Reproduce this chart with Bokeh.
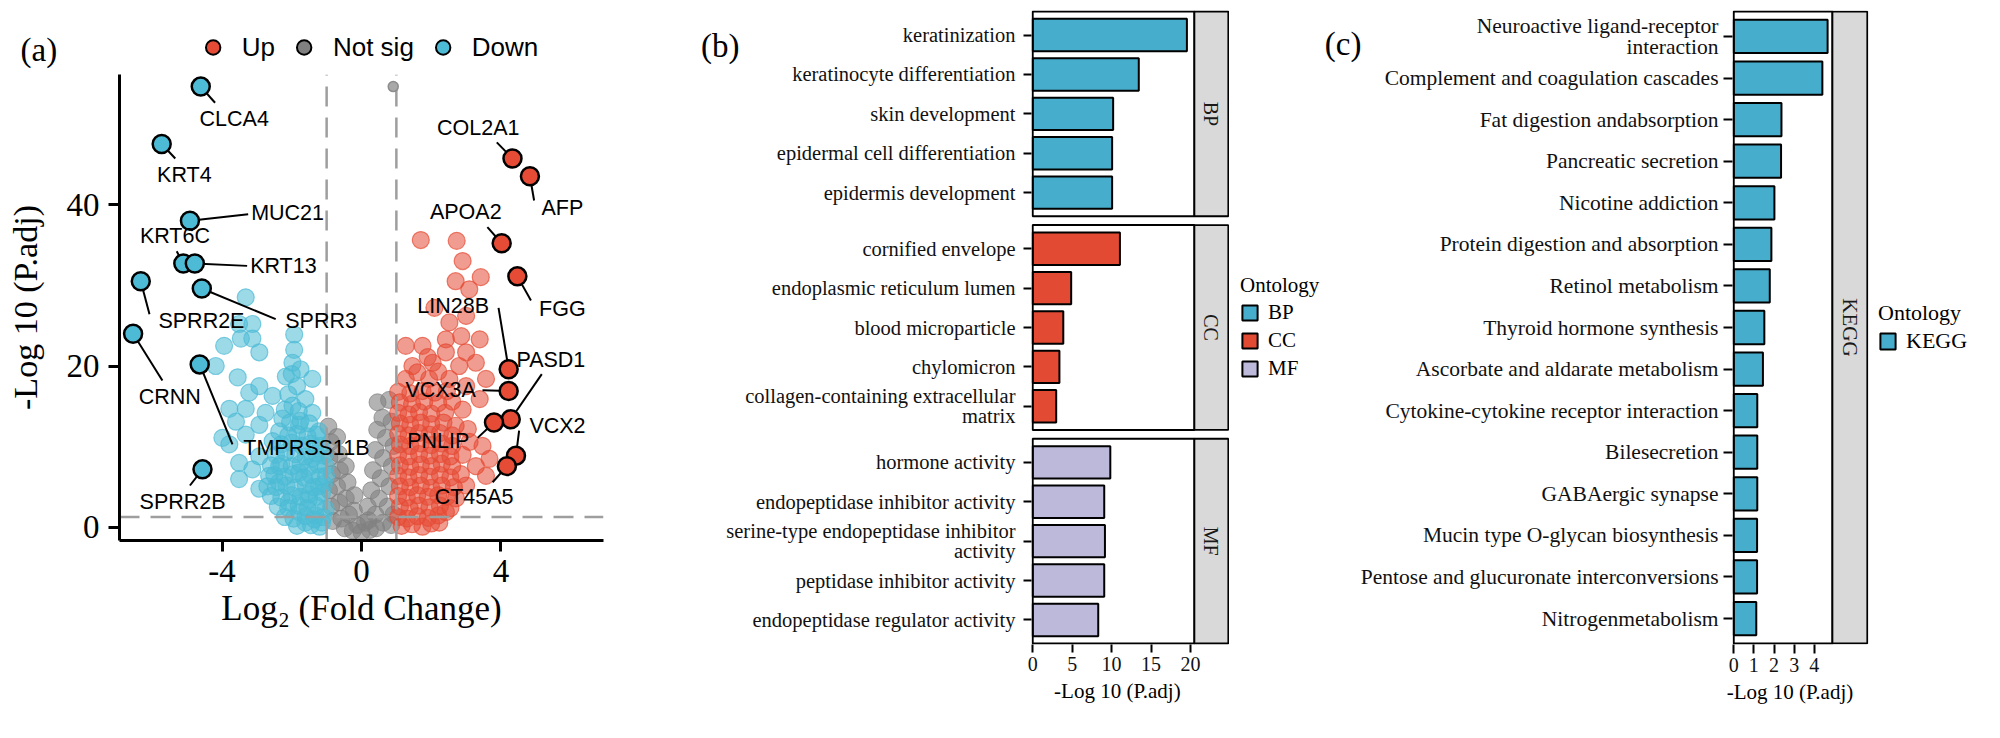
import math
from bokeh.plotting import figure
from bokeh.models import Range1d, FixedTicker, Legend, LegendItem, LinearAxis
from bokeh.layouts import row, column
from bokeh.embed import file_html
from bokeh.resources import INLINE
from bokeh.core.properties import value

SERIF = "Liberation Serif"
SANS = "Liberation Sans"
UP_C = "#E64B35"
DOWN_C = "#4DBBD5"
NS_C = "#808080"
BP_C = "#46AECC"
CC_C = "#E24A34"
MF_C = "#BDB9DB"
KEGG_C = "#46AECC"
STRIP_C = "#D9D9D9"
NBSP = "\u00a0"

# ---------------- panel (a): volcano data ----------------
FC_CUT = 1.0
P_CUT = 1.3

down_x = [-3.32, -3.51, -3.13, -3.94, -3.46, -3.13, -2.93, -1.93, -1.93, -1.98, -2.17, -4.18, -3.55, -3.22,
          -2.93, -2.55, -1.85, -1.61, -3.79, -3.32, -2.75, -3.60, -2.93, -3.99, -3.32, -2.36, -1.79, -1.41,
          -1.22, -3.51, -2.93, -2.17, -3.51, -2.93, -2.36, -1.79, -1.41, -2.09, -1.51, -1.22, -1.79, -1.32,
          -1.61, -1.13, -1.03, -1.13, -1.03, -1.17, -2.36, -2.65, -3.13, -3.79, -2.55, -1.98, -2.27, -1.41,
          -1.85, -1.45, -1.20, -2.20, -1.95, -1.60, -1.35, -1.10, -2.40, -2.10, -1.80, -1.55, -1.30,
          -2.60, -2.30, -2.00, -1.75, -1.50, -1.28, -2.70, -2.45, -2.15, -1.90, -1.60, -1.38, -1.08,
          -2.50, -2.20, -1.95, -1.65, -1.45, -1.20, -1.02, -2.60, -2.30, -2.00, -1.75, -1.50, -1.25,
          -2.45, -1.90, -1.60, -1.30, -1.08, -2.30, -2.00, -1.70, -1.45, -2.10, -1.85, -1.55, -1.30,
          -2.05, -1.75, -1.50, -2.20, -1.80, -2.10, -2.00, -1.75]
down_y = [28.5, 25.2, 25.2, 22.5, 23.4, 23.4, 21.7, 23.9, 22.0, 20.4, 18.7, 20.0, 18.6, 16.7,
          17.5, 16.3, 17.5, 15.9, 14.7, 14.7, 14.2, 13.1, 12.7, 11.1, 11.5, 11.9, 12.7, 14.2,
          11.9, 8.0, 8.8, 9.3, 6.0, 4.8, 5.6, 6.8, 8.5, 3.1, 3.5, 5.1, 1.9, 1.5,
          0.6, 0.6, 2.3, 4.3, 7.6, 10.1, 7.6, 6.4, 7.2, 10.3, 10.7, 15.1, 13.5, 18.4,
          0.2, 0.3, 0.1, 1.3, 1.1, 1.4, 1.0, 1.3, 2.6, 2.4, 2.7, 2.4, 2.7,
          3.9, 3.7, 4.0, 3.8, 4.1, 3.8, 5.1, 5.0, 5.2, 4.9, 5.3, 5.0, 5.4,
          6.5, 6.3, 6.6, 6.2, 6.5, 6.3, 6.4, 7.7, 7.9, 7.6, 7.9, 7.5, 7.8,
          9.0, 9.1, 8.8, 9.2, 8.9, 10.3, 10.5, 10.1, 10.4, 11.4, 11.6, 11.3, 11.5,
          13.0, 13.2, 12.9, 14.6, 14.4, 16.5, 19.0, 19.6]

up_x = [1.70, 2.73, 2.90, 2.70, 3.42, 3.09, 2.09, 2.52, 3.00, 1.27, 1.75, 2.42, 2.86, 3.39,
        3.00, 2.42, 2.04, 1.46, 2.80, 3.28, 3.57, 1.27, 1.94, 2.52, 3.00, 3.39, 2.90, 3.47,
        3.67, 3.28, 3.00, 2.71, 2.42, 2.23, 3.57, 3.05,
        1.15, 1.45, 1.75, 2.00, 1.05, 1.30, 1.60, 1.90, 2.20, 1.10, 1.38, 1.65, 1.95, 2.25, 2.55,
        1.05, 1.30, 1.60, 1.90, 2.20, 2.45, 1.10, 1.40, 1.70, 2.00, 2.30, 2.65,
        1.05, 1.35, 1.65, 1.95, 2.25, 2.55, 2.85, 1.10, 1.40, 1.70, 2.00, 2.30, 2.60,
        1.05, 1.35, 1.65, 1.95, 2.25, 2.55, 2.90, 1.10, 1.40, 1.70, 2.00, 2.30, 2.60, 3.10,
        1.05, 1.35, 1.65, 1.95, 2.25, 2.60, 1.10, 1.40, 1.70, 2.00, 2.35, 2.70,
        1.05, 1.35, 1.65, 2.00, 2.40, 1.10, 1.45, 1.80, 2.20, 2.60, 1.05, 1.40, 1.75, 2.10, 2.45,
        1.60, 2.20, 1.90]
up_y = [35.6, 35.5, 33.0, 30.5, 31.0, 29.5, 27.2, 25.4, 26.2, 22.5, 22.5, 23.3, 23.7, 23.3,
        21.7, 21.7, 20.4, 20.0, 20.0, 20.4, 18.4, 18.4, 18.4, 18.4, 17.5, 15.9, 14.6, 10.1,
        8.5, 7.6, 5.2, 3.6, 1.9, 0.6, 6.4, 12.2,
        0.2, 0.4, 0.1, 0.5, 1.3, 1.1, 1.4, 1.2, 1.5, 2.6, 2.4, 2.7, 2.5, 2.7, 2.4,
        3.9, 3.7, 4.0, 3.8, 4.0, 3.8, 5.1, 5.0, 5.2, 4.9, 5.2, 5.0,
        6.4, 6.2, 6.5, 6.3, 6.5, 6.2, 6.6, 7.7, 7.5, 7.8, 7.6, 7.9, 7.6,
        9.0, 8.8, 9.1, 8.9, 9.1, 8.8, 9.0, 10.3, 10.1, 10.4, 10.2, 10.4, 10.1, 10.6,
        11.6, 11.4, 11.7, 11.5, 11.7, 11.4, 12.9, 12.7, 13.0, 12.8, 13.0, 12.6,
        14.2, 14.0, 14.3, 14.1, 14.2, 15.5, 15.3, 15.6, 15.4, 15.6, 16.8, 16.6, 16.9, 16.7, 16.9,
        19.2, 19.3, 21.1]

ns_x = [-0.95, -0.88, -0.92, -0.85, -0.93, -0.87, -0.82, -0.70, -0.65, -0.62, -0.70, -0.64, -0.58,
        -0.45, -0.40, -0.45, -0.36, -0.48, -0.20, -0.22, -0.12, -0.25, 0.00, 0.10, 0.24,
        0.46, 0.79, 0.60, 0.86, 0.45, 0.70, 0.92, 0.40, 0.62, 0.87, 0.33, 0.55, 0.80, 0.28,
        0.50, 0.75, 0.92, 0.18, 0.40, 0.62, 0.20, 0.42, 0.85]
ns_y = [12.5, 10.6, 8.6, 6.6, 4.6, 2.6, 0.8, 11.2, 9.1, 7.1, 5.1, 3.1, 1.1,
        7.6, 5.6, 3.6, 1.6, -0.1, 4.0, 2.1, 0.3, -0.4, -0.6, 0.6, -0.3,
        15.5, 15.8, 13.6, 13.1, 12.1, 11.1, 10.1, 9.6, 8.6, 7.6, 7.1, 6.1, 5.1, 4.6,
        3.6, 2.6, 1.6, 2.6, 1.6, 0.6, 0.9, -0.1, 0.3]
ns_top_x = [0.91]
ns_top_y = [54.6]

down_genes = ["CLCA4", "KRT4", "MUC21", "KRT6C", "KRT13", "SPRR2E", "SPRR3", "CRNN", "TMPRSS11B", "SPRR2B"]
down_gene_x = [-4.61, -5.73, -4.92, -5.11, -4.78, -6.33, -4.58, -6.55, -4.64, -4.56]
down_gene_y = [54.6, 47.5, 38.0, 32.7, 32.7, 30.5, 29.6, 24.0, 20.2, 7.2]
down_label_x = [-3.65, -5.08, -2.12, -5.35, -2.24, -4.59, -1.16, -5.50, -1.58, -5.13]
down_label_y = [50.6, 43.6, 39.0, 36.1, 32.4, 25.6, 25.6, 16.2, 9.8, 3.1]
down_line_x = [-4.20, -5.34, -3.25, -5.30, -3.28, -6.08, -2.46, -5.71, -3.70, -4.92]
down_line_y = [52.6, 45.7, 38.8, 34.2, 32.4, 26.4, 25.8, 18.2, 10.3, 5.2]

up_genes = ["COL2A1", "AFP", "APOA2", "FGG", "LIN28B", "PASD1", "VCX3A", "PNLIP", "VCX2", "CT45A5"]
up_gene_x = [4.33, 4.83, 4.02, 4.47, 4.22, 4.28, 4.22, 3.80, 4.43, 4.17]
up_gene_y = [45.7, 43.5, 35.2, 31.1, 19.6, 13.4, 16.9, 13.0, 8.9, 7.6]
up_label_x = [3.35, 5.76, 2.99, 5.76, 2.63, 5.43, 2.27, 2.20, 5.62, 3.23]
up_label_y = [49.5, 39.6, 39.1, 27.1, 27.4, 20.8, 17.0, 10.7, 12.6, 3.8]
up_line_x = [3.88, 4.95, 3.61, 4.86, 3.93, 5.17, 3.47, 3.33, 4.52, 3.76]
up_line_y = [47.7, 40.5, 37.2, 28.1, 27.2, 19.0, 17.0, 11.1, 12.0, 5.6]

volcano_x_ticks = [-4, 0, 4]
volcano_y_ticks = [0, 20, 40]

# ---------------- panel (b): GO data ----------------
bp_terms = ["keratinization", "keratinocyte differentiation", "skin development",
            "epidermal cell differentiation", "epidermis development"]
bp_vals = [19.55, 13.45, 10.2, 10.07, 10.07]
cc_terms = ["cornified envelope", "endoplasmic reticulum lumen", "blood microparticle", "chylomicron",
            "collagen-containing extracellular\nmatrix"]
cc_vals = [11.06, 4.88, 3.88, 3.39, 2.98]
mf_terms = ["hormone activity", "endopeptidase inhibitor activity",
            "serine-type endopeptidase inhibitor\nactivity", "peptidase inhibitor activity",
            "endopeptidase regulator activity"]
mf_vals = [9.84, 9.07, 9.16, 9.07, 8.31]
go_x_ticks = [0, 5, 10, 15, 20]

# ---------------- panel (c): KEGG data ----------------
kegg_terms = ["Neuroactive ligand-receptor\ninteraction", "Complement and coagulation cascades",
              "Fat digestion andabsorption", "Pancreatic secretion", "Nicotine addiction",
              "Protein digestion and absorption", "Retinol metabolism", "Thyroid hormone synthesis",
              "Ascorbate and aldarate metabolism", "Cytokine-cytokine receptor interaction",
              "Bilesecretion", "GABAergic synapse", "Mucin type O-glycan biosynthesis",
              "Pentose and glucuronate interconversions", "Nitrogenmetabolism"]
kegg_vals = [4.66, 4.40, 2.37, 2.35, 2.02, 1.87, 1.79, 1.52, 1.45, 1.17, 1.17, 1.17, 1.16, 1.16, 1.12]
kegg_x_ticks = [0, 1, 2, 3, 4]

AXIS_TITLE_GO = "-Log 10 (P.adj)"
H = 722
# shared vertical borders of the bar-chart row (keeps frames aligned)
TOP_BC = 10
BOT_BC = 78


# ---------------- helpers ----------------
class Geom:
    """Maps page pixels to data units for a figure whose frame geometry is known."""
    def __init__(self, top, fh, yr):
        self.top, self.fh, self.yr = top, fh, yr
        self.ppy = fh / (yr[1] - yr[0])

    def y(self, sy):
        return self.yr[1] - (sy - self.top) / self.ppy


def base_fig(width, height, left, right, top, bottom, xr, yr, axes=True):
    kw = {} if axes else dict(x_axis_location=None, y_axis_location=None)
    p = figure(width=width, height=height, x_range=Range1d(*xr), y_range=Range1d(*yr),
               output_backend="svg", toolbar_location=None,
               min_border_left=left, min_border_right=right, min_border_top=top, min_border_bottom=bottom, **kw)
    p.grid.visible = False
    p.outline_line_color = None
    p.background_fill_color = "white"
    p.border_fill_color = "white"
    if axes:
        p.axis.minor_tick_line_color = None
        p.axis.major_tick_in = 0
        p.axis.axis_label_text_font = SERIF
        p.axis.axis_label_text_font_style = "normal"
        p.axis.axis_label_text_color = "black"
    return p


def panel_letter_axis(p, text, y_tick, standoff):
    ax = LinearAxis(ticker=FixedTicker(ticks=[y_tick]), major_label_overrides={y_tick: text},
                    axis_line_color=None, major_tick_line_color=None, minor_tick_line_color=None,
                    major_tick_out=0, major_tick_in=0, major_label_standoff=standoff,
                    major_label_text_font=SERIF, major_label_text_font_size="33px",
                    major_label_text_color="black")
    p.add_layout(ax, "left")


def ontology_legend(items, size, margin, glyph_h):
    return Legend(items=items, location="center_left", title="Ontology", title_text_font=SERIF,
                  title_text_font_size=size, title_text_font_style="normal", title_text_color="black",
                  title_standoff=2, label_text_font=SERIF, label_text_font_size=size, label_text_color="black",
                  glyph_width=19, glyph_height=glyph_h, label_height=glyph_h, label_standoff=9, spacing=3,
                  padding=0, margin=margin, background_fill_alpha=0, border_line_color=None)


# ================= panel (a) =================
HEAD_A = 74
YA = (-1.61, 56.1)
XA = (-6.94, 6.94)
pa = base_fig(613, H - HEAD_A, 119, 10, 0, 182, XA, YA)
pa.xaxis.ticker = FixedTicker(ticks=volcano_x_ticks)
pa.yaxis.ticker = FixedTicker(ticks=volcano_y_ticks)
pa.xaxis.major_label_overrides = {t: str(t) for t in volcano_x_ticks}
pa.axis.axis_line_width = 3
pa.axis.axis_line_color = "black"
pa.axis.major_tick_line_width = 3
pa.axis.major_tick_line_color = "black"
pa.axis.major_tick_out = 11
pa.axis.major_label_text_font = SERIF
pa.axis.major_label_text_font_size = "33px"
pa.axis.major_label_text_color = "black"
pa.xaxis.major_label_standoff = 8
pa.yaxis.major_label_standoff = 9
pa.xaxis.axis_label = "Log\u2082 (Fold Change)"
pa.xaxis.axis_label_text_font_size = "35px"
pa.xaxis.axis_label_standoff = 4
pa.yaxis.axis_label = "-Log 10 (P.adj)"
pa.yaxis.axis_label_text_font_size = "34px"
pa.yaxis.axis_label_standoff = 20

PT = 17
pa.scatter(ns_x, ns_y, size=PT, fill_color=NS_C, fill_alpha=0.6, line_color=NS_C, line_alpha=0.7, line_width=1)
pa.scatter(down_x, down_y, size=PT, fill_color=DOWN_C, fill_alpha=0.55, line_color=DOWN_C, line_alpha=0.7, line_width=1.2)
pa.scatter(up_x, up_y, size=PT, fill_color=UP_C, fill_alpha=0.55, line_color=UP_C, line_alpha=0.7, line_width=1.2)
pa.segment(x0=[-FC_CUT, FC_CUT, XA[0]], y0=[YA[0], YA[0], P_CUT], x1=[-FC_CUT, FC_CUT, XA[1]], y1=[YA[1], YA[1], P_CUT],
           line_color="#9E9E9E", line_width=2.5, line_dash="20 11")
pa.scatter(ns_top_x, ns_top_y, size=10, fill_color="#A8A8A8", line_color="#8C8C8C", line_width=1.5)
pa.segment(x0=down_gene_x, y0=down_gene_y, x1=down_line_x, y1=down_line_y, line_color="black", line_width=2)
pa.segment(x0=up_gene_x, y0=up_gene_y, x1=up_line_x, y1=up_line_y, line_color="black", line_width=2)
pa.scatter(down_gene_x, down_gene_y, size=18, fill_color=DOWN_C, line_color="black", line_width=2.5)
pa.scatter(up_gene_x, up_gene_y, size=18, fill_color=UP_C, line_color="black", line_width=2.5)
for gx, gy, gt in ((down_label_x, down_label_y, down_genes), (up_label_x, up_label_y, up_genes)):
    pa.text(x=gx, y=gy, text=gt, text_font=value(SANS), text_font_size="21.5px", text_color="black",
            text_align="center", text_baseline="middle")

# header of (a): panel letter + legend (each inside its own frame)
letter_a = base_fig(119, HEAD_A, 0, 0, 0, 0, (0, 119), (0, HEAD_A), axes=False)
letter_a.text(x=[20], y=[24.5], text=["(a)"], text_font=value(SERIF), text_font_size="33px",
              text_color="black", text_align="left", text_baseline="alphabetic")
legfig_a = base_fig(494, HEAD_A, 0, 0, 0, 0, XA, YA, axes=False)
leg_up = legfig_a.scatter(up_gene_x, up_gene_y, size=15, fill_color=UP_C, line_color="black", line_width=2, visible=False)
leg_ns = legfig_a.scatter(ns_x, ns_y, size=15, fill_color=NS_C, line_color="black", line_width=2, visible=False)
leg_dn = legfig_a.scatter(down_gene_x, down_gene_y, size=15, fill_color=DOWN_C, line_color="black", line_width=2, visible=False)
lega = Legend(items=[LegendItem(label="Up", renderers=[leg_up]), LegendItem(label="Not sig", renderers=[leg_ns]),
                     LegendItem(label="Down", renderers=[leg_dn])],
              orientation="horizontal", location="bottom_center", glyph_width=38, glyph_height=36, label_height=36,
              label_standoff=10, spacing=10, padding=0, margin=9, background_fill_alpha=0, border_line_color=None,
              label_text_font=SANS, label_text_font_size="26px", label_text_color="black")
legfig_a.add_layout(lega)
col_a = column(row(letter_a, legfig_a, spacing=0), pa, spacing=0)

# ================= facet helpers for (b),(c) =================
STEP = 40
PAD = 24


def style_bar_axes(p, tick_font, ylab_font, xtick_out, ytick_out, ystand):
    p.axis.axis_line_color = None
    p.axis.major_tick_line_color = "black"
    p.axis.major_tick_line_width = 2
    p.axis.major_label_text_font = SERIF
    p.axis.major_label_text_color = "#111111"
    p.xaxis.major_tick_out = xtick_out
    p.xaxis.major_label_text_font_size = tick_font
    p.xaxis.major_label_standoff = 4
    p.xaxis.axis_label_text_font_size = "21px"
    p.xaxis.axis_label_standoff = 5
    p.yaxis.major_tick_out = ytick_out
    p.yaxis.major_label_text_font_size = ylab_font
    p.yaxis.major_label_standoff = ystand
    p.yaxis.major_label_text_line_height = 0.9


# ================= panel (b) =================
XMAX_B = 20.5
STRIP_B = 4.3
N_B = 5
FACET_B = (N_B - 1) * STEP + 2 * PAD
GAP_B = 9
XB = (-0.15, XMAX_B + STRIP_B + 0.15)
YB = (-1, 3 * FACET_B + 2 * GAP_B + 1)
pb = base_fig(616, H, 418, 0, TOP_BC, BOT_BC, XB, YB)
gb = Geom(8 + TOP_BC, H - TOP_BC - BOT_BC, YB)
pb.xaxis.ticker = FixedTicker(ticks=go_x_ticks)
style_bar_axes(pb, "20px", "20.5px", 8, 8, 8)
pb.xaxis.axis_label = AXIS_TITLE_GO + NBSP * 5

facets = [("MF", mf_terms, mf_vals, MF_C), ("CC", cc_terms, cc_vals, CC_C), ("BP", bp_terms, bp_vals, BP_C)]
ticks_b, overrides_b, pos_b = [], {}, {}
bases = []
base = 0
for name, terms, vals, col in facets:
    pos = [base + PAD + STEP * (N_B - 1 - i) for i in range(N_B)]
    pos_b[name] = pos
    ticks_b += pos
    overrides_b.update({pp: t for pp, t in zip(pos, terms)})
    pb.hbar(y=pos, left=0, right=vals, height=33, fill_color=col, line_color="black", line_width=2)
    bases.append(base)
    base += FACET_B + GAP_B
pb.yaxis.ticker = FixedTicker(ticks=ticks_b)
pb.yaxis.major_label_overrides = overrides_b
tops = [b + FACET_B for b in bases]
pb.quad(left=0, right=XMAX_B, bottom=bases, top=tops, fill_color=None, line_color="black", line_width=2)
pb.quad(left=XMAX_B, right=XMAX_B + STRIP_B, bottom=bases, top=tops, fill_color=STRIP_C, line_color="black", line_width=1.8)
pb.text(x=[XMAX_B + STRIP_B / 2] * 3, y=[b + FACET_B / 2 for b in bases], text=[f[0] for f in facets],
        angle=-math.pi / 2, text_font=value(SERIF), text_font_size="20px", text_color="#1A1A1A",
        text_align="center", text_baseline="middle")
panel_letter_axis(pb, "(b)", round(gb.y(53)), -16)

legfig_b = base_fig(91, H, 0, 0, TOP_BC, BOT_BC, XB, YB, axes=False)
leg_items_b = []
for name, terms, vals, col in facets[::-1]:
    r = legfig_b.hbar(y=pos_b[name], left=0, right=vals, height=33, fill_color=col, line_color="black",
                      line_width=2, visible=False)
    leg_items_b.append(LegendItem(label=name, renderers=[r]))
legfig_b.add_layout(ontology_legend(leg_items_b, "21px", 11, 19))

# ================= panel (c) =================
XMAX_C = 4.9
STRIP_C_W = 1.73
N_C = len(kegg_terms)
FACET_C = (N_C - 1) * STEP + 2 * PAD
XC = (-0.06, XMAX_C + STRIP_C_W + 0.06)
YC = (-1, FACET_C + 1)
pc = base_fig(558, H, 412, 10, TOP_BC, BOT_BC, XC, YC)
gc = Geom(8 + TOP_BC, H - TOP_BC - BOT_BC, YC)
pc.xaxis.ticker = FixedTicker(ticks=kegg_x_ticks)
style_bar_axes(pc, "20px", "21.5px", 9, 9, 5)
pc.xaxis.axis_label = AXIS_TITLE_GO + NBSP * 4
pos_c = [PAD + STEP * (N_C - 1 - i) for i in range(N_C)]
pc.yaxis.ticker = FixedTicker(ticks=pos_c)
pc.yaxis.major_label_overrides = {pp: t for pp, t in zip(pos_c, kegg_terms)}
pc.hbar(y=pos_c, left=0, right=kegg_vals, height=32, fill_color=KEGG_C, line_color="black", line_width=2)
pc.quad(left=[0], right=[XMAX_C], bottom=[0], top=[FACET_C], fill_color=None, line_color="black", line_width=2)
pc.quad(left=[XMAX_C], right=[XMAX_C + STRIP_C_W], bottom=[0], top=[FACET_C], fill_color=STRIP_C,
        line_color="black", line_width=1.8)
pc.text(x=[XMAX_C + STRIP_C_W / 2], y=[FACET_C / 2], text=["KEGG"], angle=-math.pi / 2, text_font=value(SERIF),
        text_font_size="21px", text_color="#1A1A1A", text_align="center", text_baseline="middle")
panel_letter_axis(pc, "(c)", round(gc.y(51)), -4)

legfig_c = base_fig(106, H, 0, 0, TOP_BC, BOT_BC, XC, YC, axes=False)
r_kegg_leg = legfig_c.hbar(y=pos_c, left=0, right=kegg_vals, height=32, fill_color=KEGG_C, line_color="black",
                           line_width=2, visible=False)
legfig_c.add_layout(ontology_legend([LegendItem(label="KEGG", renderers=[r_kegg_leg])], "22px", 0, 20))

layout = row(col_a, pb, legfig_b, pc, legfig_c, spacing=0)
open("out.html", "w").write(file_html(layout, INLINE))
